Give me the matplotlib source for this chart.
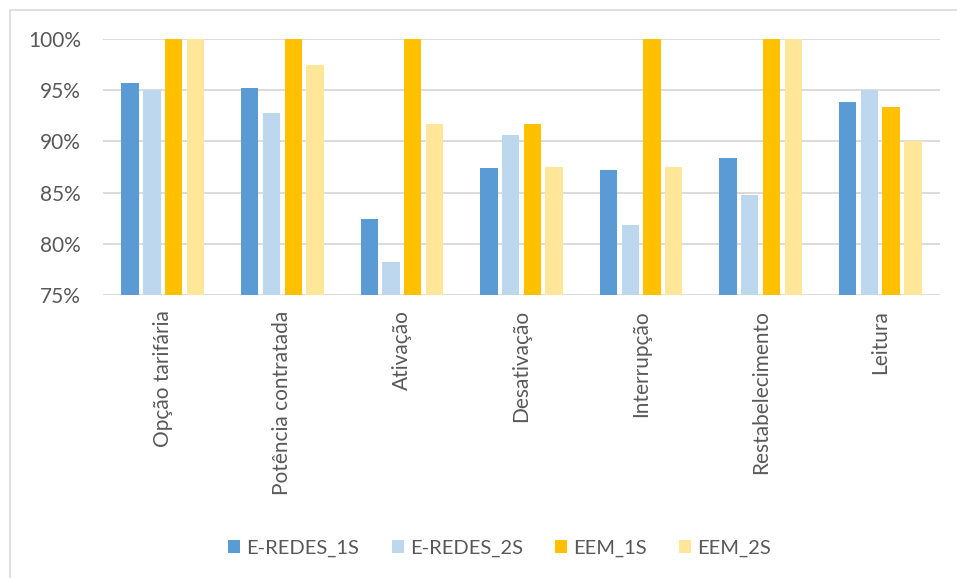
import numpy as np
import matplotlib
matplotlib.use("Agg")
import matplotlib.pyplot as plt
from matplotlib.patches import Rectangle

plt.rcParams['font.family'] = ['Lato', 'DejaVu Sans']

# Data (percent)
categories = ['Opção tarifária', 'Potência contratada', 'Ativação', 'Desativação',
              'Interrupção', 'Restabelecimento', 'Leitura']
series_names = ['E-REDES_1S', 'E-REDES_2S', 'EEM_1S', 'EEM_2S']
eredes_1s = [95.7, 95.2, 82.4, 87.4, 87.2, 88.4, 93.85]
eredes_2s = [95.0, 92.8, 78.2, 90.65, 81.8, 84.8, 95.0]
eem_1s = [100, 100, 100, 91.67, 100, 100, 93.4]
eem_2s = [100, 97.5, 91.67, 87.5, 87.5, 100, 90.0]
yticks = [75, 80, 85, 90, 95, 100]

colors = ['#5b9bd5', '#bdd7ee', '#ffc000', '#ffe699']
text_color = '#595959'

fig = plt.figure(figsize=(9.57, 5.78), dpi=100)
ax = fig.add_axes([103 / 957, 1 - 295 / 578, 837 / 957, 256 / 578])

# light outer chart border
fig.patches.append(Rectangle((10 / 957, -0.01), 1.0, 1 - 10 / 578 + 0.01,
                             transform=fig.transFigure, fill=False,
                             edgecolor='#d9d9d9', linewidth=1.2))

x = np.arange(len(categories))
pitch = 0.182
width = 0.145
all_series = [eredes_1s, eredes_2s, eem_1s, eem_2s]
for i, (vals, name, c) in enumerate(zip(all_series, series_names, colors)):
    ax.bar(x + (i - 1.5) * pitch, np.array(vals) - 75, width, bottom=75,
           color=c, label=name, zorder=3)

ax.set_xlim(-0.5, len(categories) - 0.5)
ax.set_ylim(75, 100)
ax.set_yticks(yticks)
ax.set_yticklabels([f'{v}%' for v in yticks])
ax.set_xticks(x)
ax.set_xticklabels(categories, rotation=90)
ax.tick_params(axis='both', length=0, labelsize=15, colors=text_color)
ax.tick_params(axis='y', pad=16)
ax.tick_params(axis='x', pad=11)
ax.grid(axis='y', color='#d9d9d9', linewidth=1.3, zorder=0)
for s in ax.spines.values():
    s.set_visible(False)

leg = fig.legend(loc='center', bbox_to_anchor=(0.522, 1 - 548 / 578), ncol=4,
                 frameon=False, fontsize=14.5, handlelength=0.6, handleheight=0.6,
                 handletextpad=0.3, columnspacing=1.6)
for t in leg.get_texts():
    t.set_color(text_color)

fig.savefig('out.png', dpi=100)
